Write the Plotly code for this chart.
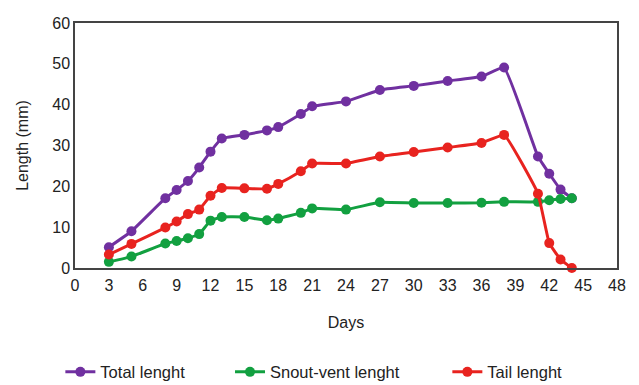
import plotly.graph_objects as go

days_total = [3, 5, 8, 9, 10, 11, 12, 13, 15, 17, 18, 20, 21, 24, 27, 30, 33, 36, 38, 41, 42, 43, 44]
total_len = [5.1, 9.0, 17.1, 19.1, 21.3, 24.6, 28.5, 31.7, 32.6, 33.7, 34.5, 37.7, 39.6, 40.8, 43.6, 44.6, 45.8, 46.9, 49.1, 27.3, 23.1, 19.2, 17.1]

days_svl = [3, 5, 8, 9, 10, 11, 12, 13, 15, 17, 18, 20, 21, 24, 27, 30, 33, 36, 38, 41, 42, 43, 44]
svl_len = [1.5, 2.8, 6.0, 6.6, 7.3, 8.3, 11.6, 12.5, 12.5, 11.7, 12.1, 13.5, 14.6, 14.3, 16.1, 15.9, 15.9, 16.0, 16.2, 16.2, 16.6, 16.9, 17.1]

days_tail = [3, 5, 8, 9, 10, 11, 12, 13, 15, 17, 18, 20, 21, 24, 27, 30, 33, 36, 38, 41, 42, 43, 44]
tail_len = [3.3, 5.9, 9.9, 11.4, 13.2, 14.3, 17.7, 19.6, 19.5, 19.4, 20.6, 23.7, 25.6, 25.6, 27.3, 28.4, 29.5, 30.6, 32.6, 18.2, 6.1, 2.1, 0.0]

x_ticks = list(range(0, 49, 3))
y_ticks = list(range(0, 61, 10))

FONT = "Liberation Sans, Arial, sans-serif"
TXT = "#222222"
FS = 16

series = [
    ("Total lenght", days_total, total_len, "#7030A0", "legend"),
    ("Snout-vent lenght", days_svl, svl_len, "#12A040", "legend2"),
    ("Tail lenght", days_tail, tail_len, "#E8231F", "legend3"),
]

fig = go.Figure()
for name, xs, ys, col, leg in series:
    fig.add_trace(go.Scatter(
        x=xs, y=ys, name=name, mode="lines+markers",
        line=dict(color=col, width=3, shape="spline", smoothing=0.3),
        marker=dict(color=col, size=10),
        legend=leg, cliponaxis=False,
    ))

legend_common = dict(orientation="h", yanchor="middle", y=-0.425, xanchor="left",
                     font=dict(family=FONT, size=16.5, color=TXT),
                     bgcolor="rgba(0,0,0,0)", borderwidth=0)

fig.update_layout(
    width=639, height=385,
    margin=dict(l=75, r=22, t=23, b=117, autoexpand=False),
    paper_bgcolor="white", plot_bgcolor="white",
    font=dict(family=FONT, size=FS, color=TXT),
    showlegend=True,
    legend=dict(x=-0.027, **legend_common),
    legend2=dict(x=0.286, **legend_common),
    legend3=dict(x=0.687, **legend_common),
    xaxis=dict(range=[0, 48], tickvals=x_ticks, ticktext=[str(v) for v in x_ticks],
               showgrid=False, zeroline=False, showline=True, mirror=True,
               linecolor="#444444", linewidth=1.5, ticks="", automargin=False,
               ticklabelstandoff=2,
               tickfont=dict(family=FONT, size=FS, color=TXT),
               title=dict(text="Days", standoff=24, font=dict(family=FONT, size=FS, color=TXT))),
    yaxis=dict(range=[0, 60], tickvals=y_ticks, ticktext=[str(v) for v in y_ticks],
               showgrid=False, zeroline=False, showline=True, mirror=True,
               linecolor="#444444", linewidth=1.5, ticks="", automargin=False,
               tickfont=dict(family=FONT, size=FS, color=TXT),
               title=dict(text="Length (mm)", standoff=20, font=dict(family=FONT, size=FS, color=TXT))),
)

fig.write_html("out.html",
               config={"displayModeBar": False},
               post_script="document.body.style.margin='0';document.body.style.padding='0';")
